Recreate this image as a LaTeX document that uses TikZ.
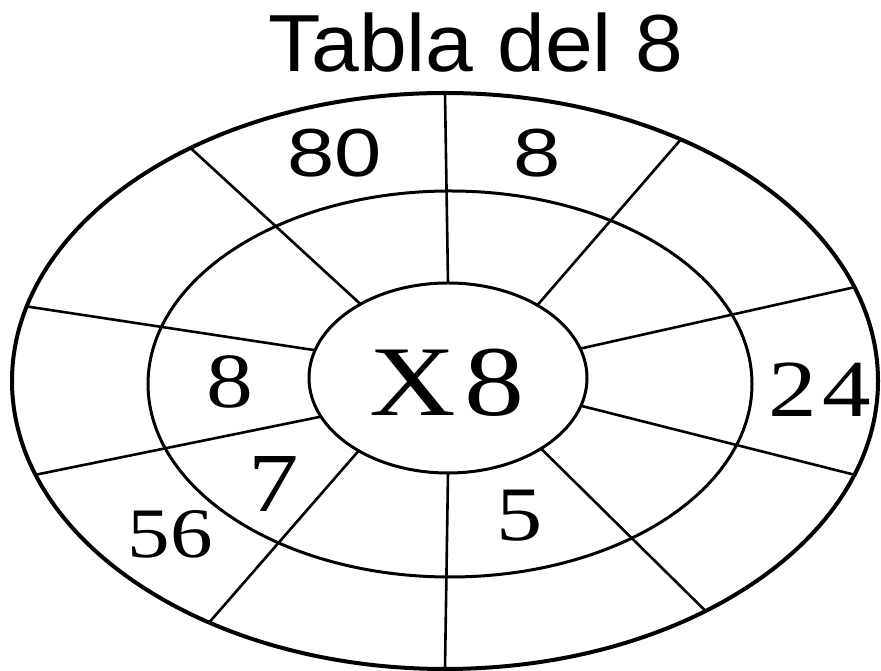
\documentclass[tikz,border=0pt]{standalone}
\usepackage{fontspec}
\setmainfont{Liberation Serif}
\newfontfamily\titlefont[FakeStretch=1.06]{Liberation Sans}
\newfontfamily\widefont[FakeStretch=1.25]{Liberation Sans}
\newfontfamily\wideserif[FakeStretch=1.2]{Liberation Serif}
\usetikzlibrary{positioning}

\begin{document}
\begin{tikzpicture}[
  x=1pt, y=1pt,
  ring/.style={line width=3pt},
  spoke/.style={line width=2.6pt},
  num/.style={inner sep=0pt, font=\wideserif\fontsize{78}{80}\selectfont},
  snum/.style={inner sep=0pt, font=\widefont\fontsize{68}{70}\selectfont}
]
\useasboundingbox[fill=white] (0,0) rectangle (881,671);

% rings
\draw[ring, line width=4pt] (445,290) ellipse [x radius=433, y radius=288];
\draw[ring] (450,287) ellipse [x radius=302, y radius=193];
\draw[ring] (448,293) ellipse [x radius=139, y radius=95];

% spokes, inner angle / outer angle
\foreach \i/\o in {90/90, 50/57, 18/19, 343/341, 312/307, 270/270, 230/237, 204/199, 163/165, 129/126}
  \draw[spoke] ({448+139*cos(\i)},{293+95*sin(\i)}) -- ({445+433*cos(\o)},{290+288*sin(\o)});

\node[inner sep=0pt, font=\titlefont\fontsize{81}{84}\selectfont] (title) at (476,628) {Tabla del 8};

\node[snum] (n80) at (335,518) {80};
\node[snum] (n8top) at (537,518) {8};
\node[num] (n8left) at (230,289) {8};
\node[num, font=\wideserif\fontsize{100}{102}\selectfont] (times) at (447,288) {X\hspace{8pt}8};
\node[num, font=\wideserif\fontsize{81}{84}\selectfont] (n24) at (820,281) {2\hspace{6pt}4};
\node[num, font=\wideserif\fontsize{84}{86}\selectfont] (n7) at (274,187) {7};
\node[num, font=\wideserif\fontsize{71}{74}\selectfont] (n56) at (170,137) {56};
\node[num, font=\wideserif\fontsize{77}{80}\selectfont] (n5) at (520,155) {5};
\end{tikzpicture}
\end{document}
